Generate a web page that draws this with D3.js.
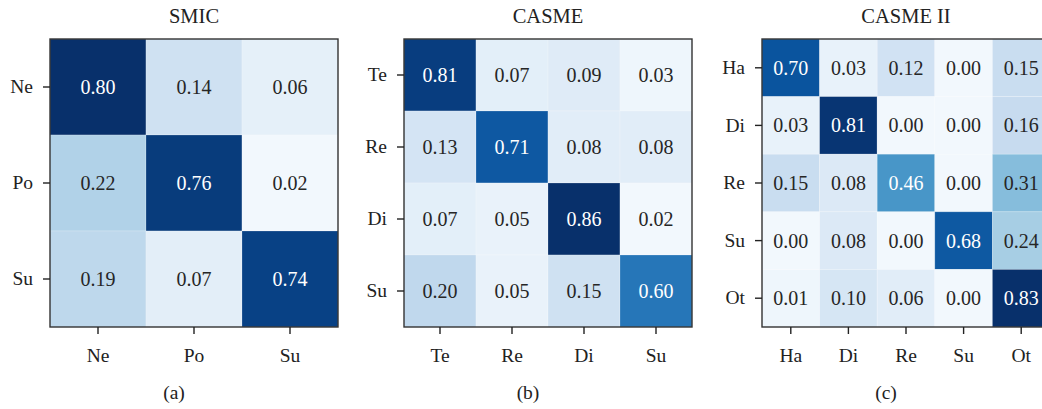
<!DOCTYPE html>
<html>
<head>
<meta charset="utf-8">
<script src="https://cdn.jsdelivr.net/npm/d3@7"></script>
<style>
  body { margin: 0; background: #fff; }
  svg { display: block; font-family: "Liberation Serif", "Times New Roman", serif; }
  .tick text { font-size: 19.5px; fill: #222; }
  .tick line { stroke: #222; stroke-width: 1.4; }
</style>
</head>
<body>
<script>
// ---- data ----
const smicLabels = ["Ne", "Po", "Su"];
const smicValues = [
  [0.80, 0.14, 0.06],
  [0.22, 0.76, 0.02],
  [0.19, 0.07, 0.74]
];

const casmeLabels = ["Te", "Re", "Di", "Su"];
const casmeValues = [
  [0.81, 0.07, 0.09, 0.03],
  [0.13, 0.71, 0.08, 0.08],
  [0.07, 0.05, 0.86, 0.02],
  [0.20, 0.05, 0.15, 0.60]
];

const casme2Labels = ["Ha", "Di", "Re", "Su", "Ot"];
const casme2Values = [
  [0.70, 0.03, 0.12, 0.00, 0.15],
  [0.03, 0.81, 0.00, 0.00, 0.16],
  [0.15, 0.08, 0.46, 0.00, 0.31],
  [0.00, 0.08, 0.00, 0.68, 0.24],
  [0.01, 0.10, 0.06, 0.00, 0.83]
];

const titles = ["SMIC", "CASME", "CASME II"];
const captions = ["(a)", "(b)", "(c)"];

// "Blues" stops, linearly interpolated (lightest one a touch darker, as printed)
const blues = ["#f2f8fd", "#deebf7", "#c6dbef", "#9ecae1", "#6baed6",
               "#4292c6", "#2171b5", "#08519c", "#08306b"];

// ---- layout ----
const w = 1042, h = 409;
const size = 288;       // side of each matrix
const mTop = 39;        // top of the matrices
const lefts = [50, 404, 762];

const svg = d3.select("body").append("svg")
  .attr("width", w)
  .attr("height", h);

const panels = [
  { labels: smicLabels, values: smicValues },
  { labels: casmeLabels, values: casmeValues },
  { labels: casme2Labels, values: casme2Values }
];

const ramp = d3.scaleLinear()
  .domain(d3.range(blues.length).map(i => i / (blues.length - 1)))
  .range(blues)
  .interpolate(d3.interpolateRgb);

panels.forEach((p, k) => {
  const x0 = lefts[k];
  const g = svg.append("g").attr("transform", `translate(${x0},${mTop})`);

  const x = d3.scaleBand().domain(p.labels).range([0, size]);
  const y = d3.scaleBand().domain(p.labels).range([0, size]);

  const flat = p.values.flat();
  const vmin = d3.min(flat), vmax = d3.max(flat);
  // slight gamma so the light tints come out like the printed figure
  const norm = d3.scaleLinear().domain([vmin, vmax]).range([0, 1]);
  const color = v => ramp(Math.pow(norm(v), 0.85));
  const thresh = (vmin + vmax) / 2;

  const cells = [];
  p.values.forEach((row, i) => row.forEach((v, j) => {
    cells.push({ r: p.labels[i], c: p.labels[j], v: v });
  }));

  g.selectAll("rect.cell")
    .data(cells)
    .enter()
    .append("rect")
    .attr("class", "cell")
    .attr("x", d => x(d.c))
    .attr("y", d => y(d.r))
    .attr("width", x.bandwidth())
    .attr("height", y.bandwidth())
    .attr("fill", d => color(d.v))
    .attr("stroke", "rgba(255,255,255,0.25)")
    .attr("stroke-width", 0.8);

  g.selectAll("text.val")
    .data(cells)
    .enter()
    .append("text")
    .attr("class", "val")
    .attr("x", d => x(d.c) + x.bandwidth() / 2)
    .attr("y", d => y(d.r) + y.bandwidth() / 2)
    .attr("dy", "0.35em")
    .attr("text-anchor", "middle")
    .style("font-size", "20px")
    .attr("fill", d => d.v > thresh ? "#fff" : "#262626")
    .text(d => d.v.toFixed(2));

  // frame
  g.append("rect")
    .attr("width", size)
    .attr("height", size)
    .attr("fill", "none")
    .attr("stroke", "#333")
    .attr("stroke-width", 1.4);

  // axes
  g.append("g")
    .call(d3.axisLeft(y).tickSize(7).tickPadding(10))
    .attr("font-family", null).attr("font-size", null)
    .call(a => a.select(".domain").remove());

  g.append("g")
    .attr("transform", `translate(0,${size})`)
    .call(d3.axisBottom(x).tickSize(7).tickPadding(14))
    .attr("font-family", null).attr("font-size", null)
    .call(a => a.select(".domain").remove());

  // title
  g.append("text")
    .attr("x", size / 2)
    .attr("y", 23 - mTop)
    .attr("text-anchor", "middle")
    .style("font-size", "20.5px")
    .attr("fill", "#222")
    .text(titles[k]);

  // sub-caption
  g.append("text")
    .attr("x", size / 2 - 20)
    .attr("y", 399 - mTop)
    .attr("text-anchor", "middle")
    .style("font-size", "19.5px")
    .attr("fill", "#222")
    .text(captions[k]);
});
</script>
</body>
</html>
